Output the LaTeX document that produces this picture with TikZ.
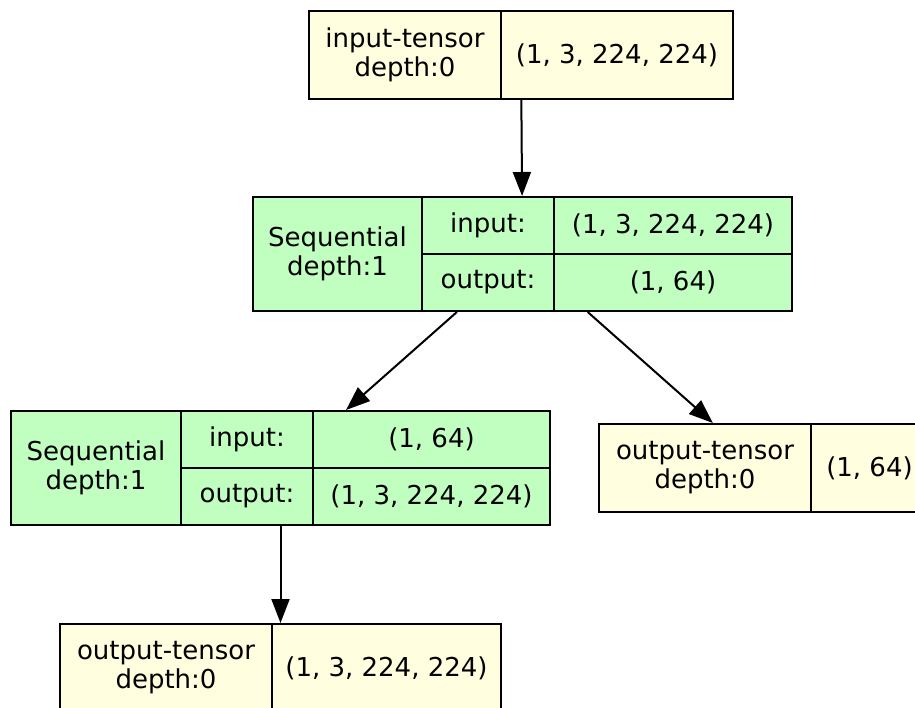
\documentclass[tikz,border=0pt]{standalone}
\usepackage{fontspec}
\setmainfont{DejaVu Sans}
\usetikzlibrary{fit,arrows.meta}
\definecolor{tensfill}{HTML}{FFFFE0}
\definecolor{modfill}{HTML}{C1FFC1}

\begin{document}
\begin{tikzpicture}[x=1pt,y=-1pt,line width=2pt,>={Triangle[length=24pt,width=18pt]},
 cell/.style={draw=black,inner sep=0pt,align=center,anchor=north west,font=\fontsize{26pt}{29pt}\selectfont},
 tens/.style={cell,fill=tensfill,minimum height=88pt},
 modl/.style={cell,fill=modfill},
 rec/.style={inner sep=0pt,outer sep=0pt,fit={#1}}]
\useasboundingbox[fill=white] (0,0) rectangle (915,708);

\draw (308,10) node[tens,minimum width=192pt] (T1) {input-tensor\\depth:0} +(192,0) node[tens,minimum width=232pt] (S1) {(1, 3, 224, 224)};
\node (R1)[rec={(T1) (S1)}]{};

\draw (252,196) node[modl,minimum width=169pt,minimum height=114pt] (M1) {Sequential\\depth:1}
 +(169,0) node[modl,minimum width=132pt,minimum height=57pt] (I1) {input:}
 +(169,57) node[modl,minimum width=132pt,minimum height=57pt] (O1) {output:}
 +(301,0) node[modl,minimum width=238pt,minimum height=57pt] (IS1) {(1, 3, 224, 224)}
 +(301,57) node[modl,minimum width=238pt,minimum height=57pt] (OS1) {(1, 64)};
\node (R2)[rec={(M1) (IS1) (OS1)}]{};

\draw (10,410) node[modl,minimum width=170pt,minimum height=114pt] (M2) {Sequential\\depth:1}
 +(170,0) node[modl,minimum width=132pt,minimum height=57pt] (I2) {input:}
 +(170,57) node[modl,minimum width=132pt,minimum height=57pt] (O2) {output:}
 +(302,0) node[modl,minimum width=237pt,minimum height=57pt] (IS2) {(1, 64)}
 +(302,57) node[modl,minimum width=237pt,minimum height=57pt] (OS2) {(1, 3, 224, 224)};
\node (R3)[rec={(M2) (IS2) (OS2)}]{};

\draw (598,423) node[tens,minimum width=212pt] (T2) {output-tensor\\depth:0} +(212,0) node[tens,minimum width=117pt] (S2) {(1, 64)};
\node (R4)[rec={(T2) (S2)}]{};

\draw (59,623) node[tens,minimum width=212pt] (T3) {output-tensor\\depth:0} +(212,0) node[tens,minimum width=229pt] (S3) {(1, 3, 224, 224)};
\node (R5)[rec={(T3) (S3)}]{};

\draw[->] (R1)--(R2);
\draw[->] (R2)--(R3);
\draw[->] (R2)--(R4);
\draw[->] (R3)--(R5);
\end{tikzpicture}
\end{document}
